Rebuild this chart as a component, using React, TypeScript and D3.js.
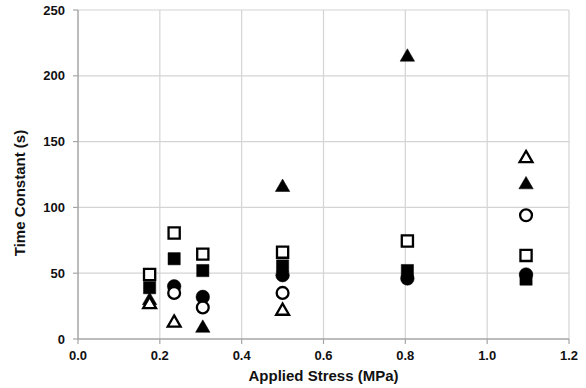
import React from 'react';
import * as d3 from 'd3';

// applied stress (MPa) for each group of measurements
const stress = [0.175, 0.235, 0.305, 0.5, 0.805, 1.095];

// time constants (s), one array per marker style; null = no point
const openSquare = [49, 80.5, 64.5, 66, 74.5, 63.5];
const filledSquare = [39, 61, 52, 55.5, 52, 45.5];
const filledCircle = [null, 40, 32, 48.5, 46, 49];
const openCircle = [null, 35, 24, 35, null, 94];
const filledTriangle = [30, null, 9, 116, 215, 118];
const openTriangle = [27, 13, null, 22, null, 138];

const xTicks = [0, 0.2, 0.4, 0.6, 0.8, 1.0, 1.2];
const yTicks = [0, 50, 100, 150, 200, 250];

const W = 586;
const H = 388;
const margin = { left: 78, right: 17, top: 10, bottom: 49 };

const font = '"Liberation Sans", Arial, sans-serif';

type Series = {
  name: string;
  values: (number | null)[];
  shape: d3.SymbolType;
  size: number;
  filled: boolean;
  dy: number;
};

const series: Series[] = [
  { name: 'filledSquare', values: filledSquare, shape: d3.symbolSquare, size: 150, filled: true, dy: 0 },
  { name: 'openSquare', values: openSquare, shape: d3.symbolSquare, size: 125, filled: false, dy: 0 },
  { name: 'filledCircle', values: filledCircle, shape: d3.symbolCircle, size: 145, filled: true, dy: 0 },
  { name: 'openCircle', values: openCircle, shape: d3.symbolCircle, size: 110, filled: false, dy: 0 },
  { name: 'filledTriangle', values: filledTriangle, shape: d3.symbolTriangle, size: 90, filled: true, dy: 1 },
  { name: 'openTriangle', values: openTriangle, shape: d3.symbolTriangle, size: 72, filled: false, dy: 1 },
];

export default function App() {
  const x = d3.scaleLinear().domain([0, 1.2]).range([margin.left, W - margin.right]);
  const y = d3.scaleLinear().domain([0, 250]).range([H - margin.bottom, margin.top]);
  const x0 = x(0);
  const y0 = y(0);

  return (
    <div style={{ position: 'absolute', left: 0, top: 0 }}>
      <svg width={W} height={H} style={{ display: 'block', background: '#fff' }}>
        {/* grid */}
        {yTicks.filter(t => t > 0).map(t => (
          <line key={'gy' + t} x1={x0} x2={x(1.2)} y1={y(t)} y2={y(t)} stroke="#d4d4d4" strokeWidth={1.2} />
        ))}
        {xTicks.filter(t => t > 0).map(t => (
          <line key={'gx' + t} x1={x(t)} x2={x(t)} y1={y(250)} y2={y0} stroke="#d4d4d4" strokeWidth={1.2} />
        ))}

        {/* axes */}
        <line x1={x0} x2={x0} y1={y(250)} y2={y0} stroke="#a6a6a6" strokeWidth={1.5} />
        <line x1={x0} x2={x(1.2)} y1={y0} y2={y0} stroke="#a6a6a6" strokeWidth={1.5} />
        {yTicks.map(t => (
          <g key={'yt' + t}>
            <line x1={x0 - 5} x2={x0} y1={y(t)} y2={y(t)} stroke="#a6a6a6" strokeWidth={1.2} />
            <text x={x0 - 13} y={y(t)} dy="0.35em" textAnchor="end"
              fontFamily={font} fontWeight="bold" fontSize={13} fill="#111">{t}</text>
          </g>
        ))}
        {xTicks.map(t => (
          <g key={'xt' + t}>
            <line x1={x(t)} x2={x(t)} y1={y0} y2={y0 + 5} stroke="#a6a6a6" strokeWidth={1.2} />
            <text x={x(t)} y={y0 + 21} textAnchor="middle"
              fontFamily={font} fontWeight="bold" fontSize={13} fill="#111">{t.toFixed(1)}</text>
          </g>
        ))}

        {/* axis titles */}
        <text x={(x0 + x(1.2)) / 2} y={381} textAnchor="middle"
          fontFamily={font} fontWeight="bold" fontSize={15} fill="#111">Applied Stress (MPa)</text>
        <text transform={`translate(25,${193}) rotate(-90)`} textAnchor="middle"
          fontFamily={font} fontWeight="bold" fontSize={15} fill="#111">Time Constant (s)</text>

        {/* markers */}
        {series.map(s => {
          const path = d3.symbol().type(s.shape).size(s.size)() as string;
          return (
            <g key={s.name}>
              {s.values.map((v, i) => v == null ? null : (
                <path key={i} d={path}
                  transform={`translate(${x(stress[i])},${y(v) + s.dy})`}
                  fill={s.filled ? '#000' : '#fff'}
                  stroke="#000"
                  strokeWidth={s.filled ? 0.5 : 2.3}
                  strokeLinejoin="miter" />
              ))}
            </g>
          );
        })}
      </svg>
    </div>
  );
}
